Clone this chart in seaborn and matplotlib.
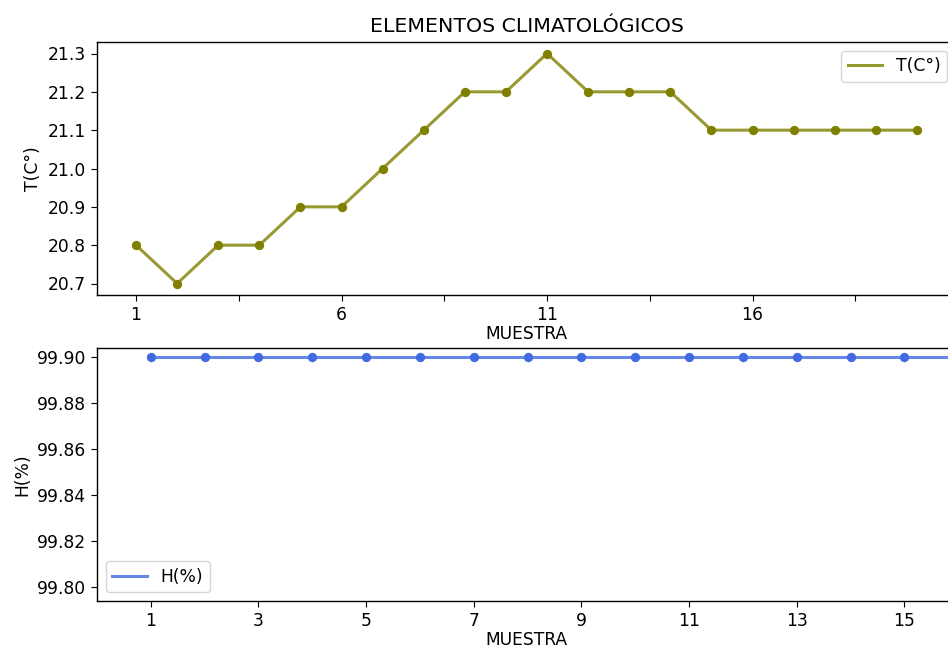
import matplotlib
matplotlib.use("Agg")
import matplotlib.pyplot as plt
import seaborn as sns
import pandas as pd

# Sample numbers and readings
muestra = list(range(1, 21))
temperatura = [20.8, 20.7, 20.8, 20.8, 20.9, 20.9, 21.0, 21.1, 21.2, 21.2,
               21.3, 21.2, 21.2, 21.2, 21.1, 21.1, 21.1, 21.1, 21.1, 21.1]
humedad = [99.9] * 20

temp_ticks = [1, 3.5, 6, 8.5, 11, 13.5, 16, 18.5]
temp_ticklabels = ["1", "", "6", "", "11", "", "16", ""]
hum_ticks = [1, 3, 5, 7, 9, 11, 13, 15]

df = pd.DataFrame({"MUESTRA": muestra, "T(C°)": temperatura, "H(%)": humedad})

base = 12.3
plt.rcParams.update({
    "font.size": base,
    "xtick.labelsize": base,
    "ytick.labelsize": base,
    "axes.labelsize": base,
    "legend.fontsize": base,
    "xtick.major.size": 4.3,
    "ytick.major.size": 4.3,
    "axes.linewidth": 1.0,
})

W, H = 948, 650
fig = plt.figure(figsize=(W / 100, H / 100), dpi=100)
ax1 = fig.add_axes([97 / W, 1 - 295 / H, 859 / W, 253 / H])
ax2 = fig.add_axes([97 / W, 1 - 601 / H, 859 / W, 253 / H])

olive = "#808000"
blue = "#4169E1"

sns.lineplot(data=df, x="MUESTRA", y="T(C°)", ax=ax1, color=olive,
             linewidth=2.2, alpha=0.8, label="T(C°)")
sns.scatterplot(data=df, x="MUESTRA", y="T(C°)", ax=ax1, color=olive,
                s=45, edgecolor=olive, linewidth=0, zorder=3, legend=False)
ax1.set_xticks(temp_ticks)
ax1.set_xticklabels(temp_ticklabels)
ax1.set_xlim(0.05, 20.95)
ax1.set_ylim(20.67, 21.33)
ax1.set_title("ELEMENTOS CLIMATOLÓGICOS", fontsize=base * 1.2, pad=7)
ax1.set_xlabel("MUESTRA", labelpad=1)
ax1.set_ylabel("T(C°)")
ax1.legend(loc="upper right")

sns.lineplot(data=df, x="MUESTRA", y="H(%)", ax=ax2, color=blue,
             linewidth=2.2, alpha=0.8, label="H(%)")
sns.scatterplot(data=df, x="MUESTRA", y="H(%)", ax=ax2, color=blue,
                s=45, edgecolor=blue, linewidth=0, zorder=3, legend=False)
ax2.set_xticks(hum_ticks)
ax2.set_xlim(0.0, 15.96)
ax2.set_ylim(99.794, 99.904)
ax2.set_yticks([99.80, 99.82, 99.84, 99.86, 99.88, 99.90])
ax2.yaxis.set_major_formatter(matplotlib.ticker.FormatStrFormatter("%.2f"))
ax2.set_xlabel("MUESTRA", labelpad=1)
ax2.set_ylabel("H(%)")
ax2.legend(loc="lower left")

fig.savefig("out.png", dpi=100)
